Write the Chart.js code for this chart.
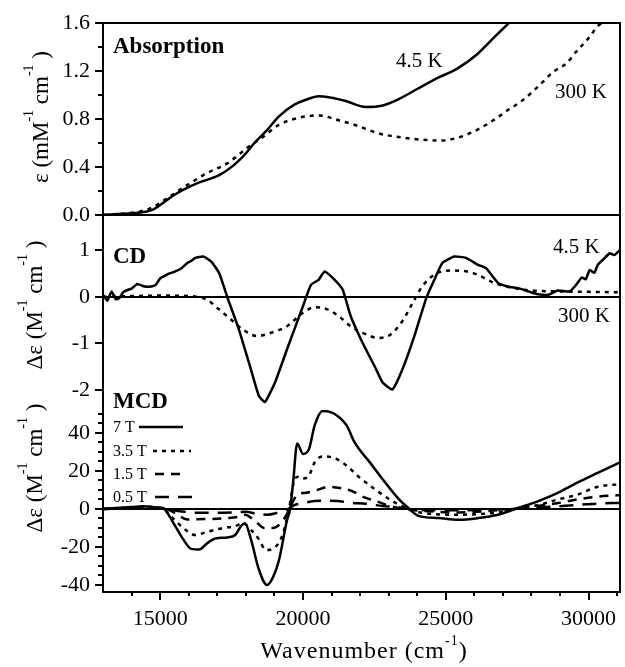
<!DOCTYPE html>
<html><head><meta charset="utf-8">
<script src="https://cdn.jsdelivr.net/npm/chart.js@4.4.1/dist/chart.umd.min.js"></script>
<style>
html,body{margin:0;padding:0;background:#fff;}
#wrap{position:relative;width:625px;height:667px;overflow:hidden;}
#wrap canvas{position:absolute;left:0;top:0;}
</style></head><body>
<div id="wrap">
<canvas id="cAbs" width="625" height="667"></canvas>
<canvas id="cCD" width="625" height="667"></canvas>
<canvas id="cMCD" width="625" height="667"></canvas>
</div>
<script>
const FONT = "'Liberation Serif','Times New Roman',serif";

// ---------- Absorption, epsilon (mM^-1 cm^-1)
const abs4K_wn  = [13000,13700,14300,14700,15100,15450,15800,16350,17050,17600,17950,18300,18750,19150,19700,20100,20550,20950,21500,22200,22750,23300,24000,24700,25400,26100,26650,27250,27600];
const abs4K_eps = [0.0,0.01,0.02,0.04,0.10,0.16,0.21,0.27,0.33,0.42,0.50,0.60,0.71,0.82,0.92,0.96,0.99,0.98,0.95,0.90,0.91,0.96,1.05,1.14,1.22,1.34,1.47,1.61,1.70];
const abs300K_wn  = [13000,13700,14300,14700,15250,15950,16650,17350,18050,18600,19150,19850,20550,21250,21950,22650,23350,24050,24850,25500,26100,26800,27150,27600,28050,28400,28750,29250,29600,29950,30350,30650,31100];
const abs300K_eps = [0.0,0.01,0.03,0.06,0.14,0.25,0.35,0.43,0.56,0.65,0.75,0.81,0.83,0.79,0.74,0.68,0.65,0.63,0.62,0.65,0.71,0.81,0.87,0.94,1.03,1.11,1.19,1.27,1.37,1.46,1.58,1.62,1.75];

// ---------- CD, delta epsilon (M^-1 cm^-1)
const cd4K_wn = [13000,13150,13300,13450,13580,13700,13860,14000,14200,14420,14600,14840,15000,15110,15300,15530,15750,15950,16100,16230,16510,16790,17070,17350,17760,18180,18460,18670,19020,19440,20000,20280,20550,20760,21110,21390,21670,22090,22510,22790,23130,23480,23900,24320,24600,24880,25300,25710,26130,26410,26830,27200,27530,27900,28220,28600,28920,29340,29550,29760,29900,30040,30200,30320,30500,30740,30900,31100];
const cd4K_de = [0.05,-0.08,0.12,-0.05,-0.02,0.10,0.15,0.18,0.28,0.23,0.22,0.26,0.40,0.44,0.50,0.55,0.62,0.73,0.78,0.84,0.87,0.76,0.51,0.0,-0.70,-1.56,-2.13,-2.26,-1.84,-1.13,-0.20,0.26,0.37,0.55,0.37,0.16,-0.41,-0.99,-1.49,-1.84,-1.99,-1.56,-0.84,-0.02,0.37,0.73,0.87,0.84,0.69,0.62,0.30,0.22,0.19,0.12,0.06,0.05,0.14,0.12,0.25,0.42,0.38,0.58,0.52,0.69,0.80,0.94,0.90,1.01];
const cd300K_wn = [13000,14000,15000,16000,16300,16650,17070,17490,17900,18390,18880,19440,20000,20420,20830,21250,21670,22090,22650,23060,23480,23900,24180,24600,25150,25600,26100,26700,27300,28000,29000,30000,31100];
const cd300K_de = [0.0,0.02,0.03,0.02,0.0,-0.06,-0.27,-0.49,-0.70,-0.84,-0.77,-0.63,-0.34,-0.22,-0.26,-0.41,-0.63,-0.77,-0.88,-0.81,-0.52,-0.06,0.23,0.48,0.57,0.56,0.48,0.30,0.20,0.14,0.12,0.11,0.10];

// ---------- MCD, delta epsilon (M^-1 cm^-1)
const mcd7T_wn = [13000,14000,14400,14900,15110,15250,15530,15810,16090,16370,16650,16930,17350,17630,17830,17970,18180,18460,18740,18950,19160,19440,19550,19650,19800,20000,20210,20410,20690,20970,21250,21530,21810,22370,22930,23340,23690,24040,24740,25440,26130,26830,27530,28220,28920,29620,30320,31100];
const mcd7T_de = [0.0,1.0,1.5,0.8,0.5,-2,-9,-16,-21,-21.3,-18,-15.5,-15,-13.7,-9,-7.5,-16,-32,-40,-36,-27,-6,0,13,34.5,29,31.5,44,51.6,51,48.5,44,35,24,13,5.5,0.5,-3.6,-4.8,-5.7,-4.8,-3,0.5,4,8.5,14,19,24.5];
const mcd35T_wn = [13000,14000,14400,15110,15390,15810,16230,16650,17210,17630,17900,18180,18460,18700,19000,19300,19510,19720,19860,20000,20210,20410,20690,21110,21530,21950,22510,23060,23620,24180,25440,26830,27530,28220,28920,29620,30320,31100];
const mcd35T_de = [0.0,0.8,1.2,0,-4,-10,-13.7,-12,-10,-9,-7.5,-11,-16,-21.6,-20.5,-13,0,16,17,16,17.5,24.5,27.7,26.7,22.8,17,10.5,4.8,0.5,-2,-3,-1.8,0.5,2,5,7.6,11.7,13];
const mcd15T_wn = [13000,14000,14400,15000,15300,15550,15950,16650,17350,17770,17970,18300,18650,18950,19250,19500,19650,19800,20100,20500,20900,21300,21700,22200,22500,22950,23500,24200,25400,26800,27500,28200,28900,29600,30300,31100];
const mcd15T_de = [0,0.5,0.8,0.3,-0.5,-2.5,-5.5,-5.3,-4.8,-4,-3,-6,-10,-10,-7,-1,4,7.5,8.5,10,11.7,11,9.5,5.8,4.5,2,0,-1,-1.8,-0.7,0.2,1.5,3,5,6.5,7.3];
const mcd05T_wn = [13000,14000,14400,15000,15300,15700,16300,17000,17600,18000,18400,18750,19100,19450,19700,20000,20400,20800,21200,21700,22200,22800,23300,24000,25000,26500,27500,28500,29500,30300,31100];
const mcd05T_de = [0,0.4,0.6,0.3,-0.5,-1.2,-2,-2,-1.8,-1.5,-2.6,-3,-2,-0.3,2,3,4.2,4.4,4.2,3.2,2.8,1.5,1,-0.5,-0.7,-0.4,0.2,1,2,2.8,3.2];

// ---------- ticks / labels
const xMajorTicks = [15000,20000,25000,30000];
const xMinorTicks = [14000,16000,17000,18000,19000,21000,22000,23000,24000,26000,27000,28000,29000,31000];
const absTicks = [0,0.4,0.8,1.2,1.6];
const absMinorTicks = [0.2,0.6,1.0,1.4];
const cdTicks = [-2,-1,0,1];
const mcdTicks = [-40,-20,0,20,40];
const mcdMinorTicks = [-35,-30,-25,-15,-10,-5,5,10,15,25,30,35,45,50];
const mcdLegendLabels = ['7 T','3.5 T','1.5 T','0.5 T'];

const pts = (xs, ys) => xs.map((x, i) => ({x: x, y: ys[i]}));

function ds(data, dash, extra) {
  return Object.assign({data: data, borderColor: '#000', borderWidth: 2.5, borderDash: dash || [],
    pointRadius: 0, fill: false, cubicInterpolationMode: 'monotone'}, extra || {});
}

function drawRotTitle(ctx, bx, cy, parts) {
  const big = 23, small = 14, rise = 15;
  let total = 0;
  parts.forEach(p => { ctx.font = (p[1] ? small : big) + 'px ' + FONT; total += ctx.measureText(p[0]).width; });
  ctx.save();
  ctx.translate(bx, cy);
  ctx.rotate(-Math.PI / 2);
  ctx.fillStyle = '#000';
  ctx.textBaseline = 'alphabetic';
  ctx.textAlign = 'left';
  let x = -total / 2;
  parts.forEach(p => {
    ctx.font = (p[1] ? small : big) + 'px ' + FONT;
    ctx.fillText(p[0], x, p[1] ? -rise : 0);
    x += ctx.measureText(p[0]).width;
  });
  ctx.restore();
}

function txt(ctx, s, x, y, font) {
  ctx.font = font; ctx.fillStyle = '#000'; ctx.textBaseline = 'alphabetic'; ctx.textAlign = 'left';
  ctx.fillText(s, x, y);
}

function yTickMarks(chart, majors, minors) {
  const ctx = chart.ctx, a = chart.chartArea, s = chart.scales.y;
  ctx.save(); ctx.strokeStyle = '#000'; ctx.lineWidth = 2; ctx.beginPath();
  majors.forEach(v => { const p = Math.round(s.getPixelForValue(v)); ctx.moveTo(a.left - 8, p); ctx.lineTo(a.left, p); });
  minors.forEach(v => { const p = Math.round(s.getPixelForValue(v)); ctx.moveTo(a.left - 5, p); ctx.lineTo(a.left, p); });
  ctx.stroke(); ctx.restore();
}

function vLine(ctx, x, y1, y2) { ctx.moveTo(x, y1); ctx.lineTo(x, y2); }
function hLine(ctx, y, x1, x2) { ctx.moveTo(x1, y); ctx.lineTo(x2, y); }

function yScale(min, max, ticks, fmt) {
  return {
    type: 'linear', min: min, max: max,
    afterFit: s => { s.width = 103; s.paddingTop = 0; s.paddingBottom = 0; },
    afterBuildTicks: s => { s.ticks = ticks.map(v => ({value: v})); },
    grid: {display: false, drawTicks: false},
    border: {display: false},
    ticks: {padding: 13, color: '#000', font: {family: FONT, size: 22}, callback: fmt}
  };
}

function baseOptions(padTop, padBottom, xDisplay, yOpts) {
  const xOpts = {
    type: 'linear', min: 13000, max: 31100, display: xDisplay,
    afterBuildTicks: s => { s.ticks = xMajorTicks.map(v => ({value: v})); },
    grid: {display: false, drawTicks: false},
    border: {display: false},
    ticks: {padding: 14, color: '#000', font: {family: FONT, size: 22}, maxRotation: 0, callback: v => String(v)}
  };
  if (xDisplay) xOpts.afterFit = s => { s.height = 40; s.paddingLeft = 0; s.paddingRight = 0; };
  return {
    responsive: false, animation: false, events: [],
    layout: {padding: {left: 0, right: 5, top: padTop, bottom: padBottom}},
    plugins: {legend: {display: false}, tooltip: {enabled: false}},
    scales: {x: xOpts, y: yOpts}
  };
}

// ---------------- Absorption panel
new Chart(document.getElementById('cAbs'), {
  type: 'line',
  data: {datasets: [
    ds(pts(abs4K_wn, abs4K_eps), []),
    ds(pts(abs300K_wn, abs300K_eps), [4, 5])
  ]},
  options: baseOptions(23, 667 - 215, false, yScale(0, 1.6, absTicks, v => v.toFixed(1))),
  plugins: [{
    id: 'absDeco',
    afterDraw(chart) {
      const ctx = chart.ctx, a = chart.chartArea;
      ctx.save(); ctx.strokeStyle = '#000'; ctx.lineWidth = 2; ctx.beginPath();
      hLine(ctx, a.top, a.left - 1, a.right + 1);
      hLine(ctx, a.bottom, a.left - 1, a.right + 1);
      vLine(ctx, a.left, a.top, a.bottom);
      vLine(ctx, a.right, a.top, a.bottom);
      ctx.stroke(); ctx.restore();
      yTickMarks(chart, absTicks, absMinorTicks);
      txt(ctx, 'Absorption', 113, 53, 'bold 23px ' + FONT);
      txt(ctx, '4.5 K', 396, 67, '21px ' + FONT);
      txt(ctx, '300 K', 555, 98, '21px ' + FONT);
      drawRotTitle(ctx, 48, 117, [['\u03b5 (mM', 0], ['-1', 1], [' cm', 0], ['-1', 1], [' )', 0]]);
    }
  }]
});

// ---------------- CD panel
new Chart(document.getElementById('cCD'), {
  type: 'line',
  data: {datasets: [
    ds(pts(cd4K_wn, cd4K_de), [], {cubicInterpolationMode: 'default', tension: 0.15}),
    ds(pts(cd300K_wn, cd300K_de), [4, 5])
  ]},
  options: baseOptions(215, 667 - 410, false, yScale(-2.43, 1.763, cdTicks, v => String(v))),
  plugins: [{
    id: 'cdDeco',
    beforeDatasetsDraw(chart) {
      const ctx = chart.ctx, a = chart.chartArea, s = chart.scales.y;
      ctx.save(); ctx.strokeStyle = '#000'; ctx.lineWidth = 2; ctx.beginPath();
      hLine(ctx, Math.round(s.getPixelForValue(0)), a.left, a.right);
      ctx.stroke(); ctx.restore();
    },
    afterDraw(chart) {
      const ctx = chart.ctx, a = chart.chartArea;
      ctx.save(); ctx.strokeStyle = '#000'; ctx.lineWidth = 2; ctx.beginPath();
      vLine(ctx, a.left, a.top, a.bottom);
      vLine(ctx, a.right, a.top, a.bottom);
      ctx.stroke(); ctx.restore();
      yTickMarks(chart, cdTicks, []);
      txt(ctx, 'CD', 113, 263, 'bold 23px ' + FONT);
      txt(ctx, '4.5 K', 553, 253, '21px ' + FONT);
      txt(ctx, '300 K', 558, 322, '21px ' + FONT);
      drawRotTitle(ctx, 42, 305, [['\u0394\u03b5 (M', 0], ['-1', 1], [' cm', 0], ['-1', 1], [' )', 0]]);
    }
  }]
});

// ---------------- MCD panel
const mcdSets = [
  ds(pts(mcd7T_wn, mcd7T_de), []),
  ds(pts(mcd35T_wn, mcd35T_de), [4, 5]),
  ds(pts(mcd15T_wn, mcd15T_de), [9, 7]),
  ds(pts(mcd05T_wn, mcd05T_de), [14, 9])
];
new Chart(document.getElementById('cMCD'), {
  type: 'line',
  data: {datasets: mcdSets},
  options: baseOptions(410, 35, true, yScale(-43.7, 52.1, mcdTicks, v => String(v))),
  plugins: [{
    id: 'mcdDeco',
    beforeDatasetsDraw(chart) {
      const ctx = chart.ctx, a = chart.chartArea, s = chart.scales.y;
      ctx.save(); ctx.strokeStyle = '#000'; ctx.lineWidth = 2; ctx.beginPath();
      hLine(ctx, Math.round(s.getPixelForValue(0)), a.left, a.right);
      ctx.stroke(); ctx.restore();
    },
    afterDraw(chart) {
      const ctx = chart.ctx, a = chart.chartArea, xs = chart.scales.x;
      ctx.save(); ctx.strokeStyle = '#000'; ctx.lineWidth = 2; ctx.beginPath();
      vLine(ctx, a.left, a.top, a.bottom + 1);
      vLine(ctx, a.right, a.top, a.bottom + 1);
      hLine(ctx, a.bottom, a.left - 1, a.right + 1);
      xMajorTicks.forEach(v => { const p = Math.round(xs.getPixelForValue(v)); vLine(ctx, p, a.bottom, a.bottom + 8); });
      xMinorTicks.forEach(v => { const p = Math.round(xs.getPixelForValue(v)); vLine(ctx, p, a.bottom, a.bottom + 4); });
      ctx.stroke(); ctx.restore();
      yTickMarks(chart, mcdTicks, mcdMinorTicks);
      txt(ctx, 'MCD', 113, 408, 'bold 23px ' + FONT);
      // legend
      const legY = [432, 456, 479, 502];
      const lineX = [[139, 183], [153, 191], [155, 187], [155, 197]];
      mcdLegendLabels.forEach((lab, i) => {
        txt(ctx, lab, 113, legY[i], '16px ' + FONT);
        ctx.save(); ctx.strokeStyle = '#000'; ctx.lineWidth = 2.5;
        ctx.setLineDash(mcdSets[i].borderDash);
        ctx.beginPath(); hLine(ctx, legY[i] - 5, lineX[i][0], lineX[i][1]); ctx.stroke(); ctx.restore();
      });
      drawRotTitle(ctx, 42, 468, [['\u0394\u03b5 (M', 0], ['-1', 1], [' cm', 0], ['-1', 1], [' )', 0]]);
      // x title
      ctx.save();
      ctx.letterSpacing = '1px';
      const parts = [['Wavenumber (cm', 0], ['-1', 1], [')', 0]];
      let total = 0;
      parts.forEach(p => { ctx.font = (p[1] ? 14 : 24) + 'px ' + FONT; total += ctx.measureText(p[0]).width; });
      let x = 364 - total / 2;
      parts.forEach(p => {
        txt(ctx, p[0], x, p[1] ? 645 : 658, (p[1] ? 14 : 24) + 'px ' + FONT);
        ctx.font = (p[1] ? 14 : 24) + 'px ' + FONT; x += ctx.measureText(p[0]).width;
      });
      ctx.restore();
    }
  }]
});
</script>
</body></html>
